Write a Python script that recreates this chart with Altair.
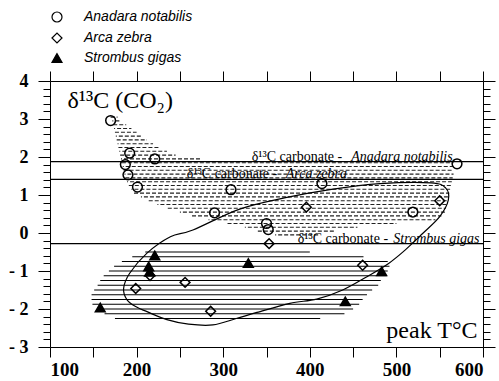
import altair as alt
import pandas as pd

species = ["Anadara notabilis", "Arca zebra", "Strombus gigas"]

anadara_x = [170, 192, 187, 190, 221, 201, 309, 290, 350, 352, 414, 519, 570]
anadara_y = [2.96, 2.10, 1.80, 1.53, 1.95, 1.21, 1.14, 0.53, 0.25, 0.09, 1.30, 0.55, 1.82]
arca_x = [396, 353, 550, 461, 256, 199, 215.5, 285.5]
arca_y = [0.68, -0.28, 0.85, -0.85, -1.30, -1.46, -1.12, -2.06]
strombus_x = [221, 214, 215, 329, 158, 441, 483]
strombus_y = [-0.59, -0.88, -1.02, -0.79, -1.96, -1.80, -1.01]

# carbonate reference values
ref_y = [1.88, 1.41, -0.28]
ref_prefix = ["δ¹³C carbonate - ", "δ¹³C carbonate - ", "δ¹³C carbonate - "]
ref_species = ["Anadara notabilis", "Arca zebra", "Strombus gigas"]
ref_x_start = [333, 258, 386]
ref_x_end = [565, 443, 596]

# Arca zebra field outline (closed curve)
arca_field_x = [185, 189, 200, 212, 235, 260, 288, 315, 339, 377, 408, 438, 466, 491,
                510, 530, 550, 560, 557, 540, 481, 425, 372, 319, 265, 239, 212, 192]
arca_field_y = [-1.46, -1.76, -1.95, -2.07, -2.28, -2.40, -2.42, -2.25, -2.09, -1.85,
                -1.74, -1.50, -1.15, -0.80, -0.45, -0.02, 0.43, 0.87, 1.18, 1.32,
                1.30, 1.15, 0.93, 0.63, 0.08, -0.10, -0.53, -1.06]

# Anadara notabilis field (stippled rows)
ana_row_y = [3.05, 2.95, 2.85, 2.75, 2.65, 2.55, 2.45, 2.35, 2.25, 2.15, 2.05, 1.95,
             1.85, 1.75, 1.65, 1.55, 1.45, 1.35, 1.25, 1.15, 1.05, 0.95, 0.85, 0.75,
             0.65, 0.55, 0.45, 0.35, 0.25, 0.15, 0.05, -0.05]
ana_row_x0 = [170, 172, 173, 174, 175, 176, 177, 178, 179, 180, 181, 182,
              183, 184, 185, 186, 187, 189, 191, 194, 197, 205, 214, 224,
              236, 250, 264, 283, 305, 325, 340, 360]
ana_row_x1 = [178, 182, 188, 194, 200, 206, 212, 219, 226, 235, 245, 275,
              566, 565, 566, 566, 565, 564, 563, 562, 561, 560, 559, 558,
              557, 556, 552, 545, 500, 455, 430, 410]

# Strombus gigas field (hatched rows)
str_row_y = [-0.50, -0.625, -0.75, -0.875, -1.0, -1.125, -1.25, -1.375, -1.5,
             -1.625, -1.75, -1.875, -2.0, -2.125, -2.25]
str_row_x0 = [210, 195, 183, 174, 168, 162, 158, 155, 151, 148, 148, 149, 155, 163, 175]
str_row_x1 = [400, 462, 490, 492, 490, 489, 482, 479, 472, 466, 461, 457, 450, 440, 412]

x_ticks = [100, 150, 200, 250, 300, 350, 400, 450, 500, 550, 600]
y_ticks = [round(-3 + 0.2 * i, 1) for i in range(36)]

pts = pd.DataFrame({
    "x": anadara_x + arca_x + strombus_x,
    "y": anadara_y + arca_y + strombus_y,
    "species": [species[0]] * len(anadara_x) + [species[1]] * len(arca_x) + [species[2]] * len(strombus_x),
})
refs = pd.DataFrame({"y": ref_y, "prefix": ref_prefix, "sp": ref_species,
                     "xs": ref_x_start, "xe": ref_x_end})
outline = pd.DataFrame({"x": arca_field_x, "y": arca_field_y, "o": list(range(len(arca_field_x)))})
ana = pd.DataFrame({"y": ana_row_y, "x0": ana_row_x0, "x1": ana_row_x1, "k": list(range(len(ana_row_y)))})
stro = pd.DataFrame({"y": str_row_y, "x0": str_row_x0, "x1": str_row_x1})

xs = alt.Scale(domain=[100, 600], nice=False, zero=False)
ys = alt.Scale(domain=[-3, 4], nice=False, zero=False)

is_int = "abs(datum.value - round(datum.value)) < 0.01"
serif = "Liberation Serif"

left_axis = alt.Axis(
    orient="left", values=y_ticks, grid=False,
    labelExpr=is_int + " ? (datum.value < 0 ? '- ' + abs(round(datum.value)) : '' + round(datum.value)) : ''",
    tickSize={"condition": {"test": is_int, "value": 12}, "value": 7},
    labelFont=serif, labelFontWeight="bold", labelFontSize=18, labelColor="black",
    labelPadding=10, tickColor="black", domainColor="black",
    title="δ¹³C (CO₂)", titleAngle=0, titleX=17, titleY=26, titleAlign="left",
    titleBaseline="alphabetic", titleFont=serif, titleFontSize=24,
    titleFontWeight="normal", titleColor="black")
right_axis = alt.Axis(
    orient="right", values=y_ticks, grid=False, labels=False, title=None,
    tickSize={"condition": {"test": is_int, "value": 12}, "value": 7},
    tickColor="black", domainColor="black")
bottom_axis = alt.Axis(
    orient="bottom", values=x_ticks, grid=False, tickSize=10,
    labelExpr="datum.value % 100 === 0 ? datum.label : ''",
    labelFont=serif, labelFontWeight="bold", labelFontSize=19, labelColor="black",
    labelPadding=3, tickColor="black", domainColor="black",
    title="peak T°C", titleX=427, titleY=-10, titleAlign="right",
    titleBaseline="alphabetic", titleFont=serif, titleFontSize=24,
    titleFontWeight="normal", titleColor="black")
top_axis = alt.Axis(
    orient="top", values=x_ticks, grid=False, labels=False, title=None,
    tickSize=10, tickColor="black", domainColor="black")

str_layer = alt.Chart(stro).mark_rule(color="black", strokeWidth=1.2).encode(
    x=alt.X("x0:Q", scale=xs, axis=bottom_axis), x2="x1:Q",
    y=alt.Y("y:Q", scale=ys, axis=left_axis))

ana_even = alt.Chart(ana).transform_filter("datum.k % 2 === 0").mark_rule(
    color="#222222", strokeWidth=1.1, strokeDash=[4, 2]).encode(
    x=alt.X("x0:Q", scale=xs, axis=None), x2="x1:Q",
    y=alt.Y("y:Q", scale=ys, axis=None))
ana_odd = alt.Chart(ana).transform_filter("datum.k % 2 === 1").mark_rule(
    color="#222222", strokeWidth=1.1, strokeDash=[4, 2], strokeDashOffset=3).encode(
    x=alt.X("x0:Q", scale=xs, axis=None), x2="x1:Q",
    y=alt.Y("y:Q", scale=ys, axis=None))

outline_layer = alt.Chart(outline).mark_line(
    color="black", strokeWidth=1.2, interpolate="cardinal-closed").encode(
    x=alt.X("x:Q", scale=xs, axis=top_axis),
    y=alt.Y("y:Q", scale=ys, axis=right_axis),
    order="o:Q")

ref_lines = alt.Chart(refs).mark_rule(color="black", strokeWidth=1.3).encode(
    y=alt.Y("y:Q", scale=ys, axis=None))

ref_text1 = alt.Chart(refs).mark_text(
    align="left", baseline="alphabetic", dy=-1, font=serif, fontSize=14, color="black").encode(
    x=alt.X("xs:Q", scale=xs, axis=None), y=alt.Y("y:Q", scale=ys, axis=None), text="prefix:N")
ref_text2 = alt.Chart(refs).mark_text(
    align="right", baseline="alphabetic", dy=-1, font=serif, fontSize=14,
    fontStyle="italic", color="black").encode(
    x=alt.X("xe:Q", scale=xs, axis=None), y=alt.Y("y:Q", scale=ys, axis=None), text="sp:N")

leg = alt.Legend(orient="none", legendX=0, legendY=-71, title=None,
                 labelFont="Liberation Sans", labelFontStyle="italic", labelFontSize=14,
                 labelColor="black", symbolStrokeWidth=1.2,
                 symbolSize=100, rowPadding=5, labelOffset=20, padding=0)

points = alt.Chart(pts).mark_point(filled=True, strokeWidth=1.5, size=95, opacity=1).encode(
    x=alt.X("x:Q", scale=xs, axis=None),
    y=alt.Y("y:Q", scale=ys, axis=None),
    shape=alt.Shape("species:N", scale=alt.Scale(domain=species, range=["circle", "diamond", "triangle-up"]), legend=leg),
    fill=alt.Fill("species:N", scale=alt.Scale(domain=species, range=["transparent", "transparent", "black"]), legend=leg),
    stroke=alt.Stroke("species:N", scale=alt.Scale(domain=species, range=["black", "black", "black"]), legend=leg),
)

chart = alt.layer(
    str_layer, ana_even, ana_odd, outline_layer, ref_lines, ref_text1, ref_text2, points
).resolve_axis(x="independent", y="independent").properties(
    width=433, height=266,
    padding={"left": 50, "top": 81, "right": 16, "bottom": 34},
    autosize=alt.AutoSizeParams(type="none"),
    background="white",
).configure_view(stroke=None)

chart.save("out.html", embed_options={"renderer": "svg", "actions": False})
